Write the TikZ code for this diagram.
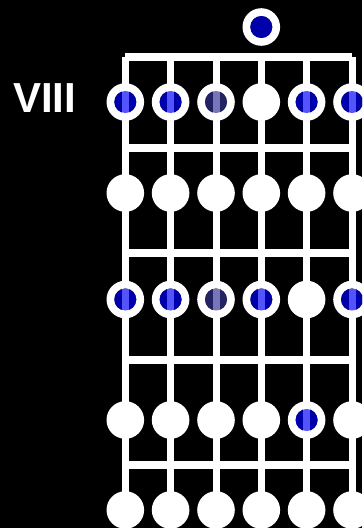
\documentclass[tikz,border=0pt]{standalone}
\usepackage{fontspec}
\setmainfont{Liberation Sans}
\definecolor{dotblue}{RGB}{0,0,255}
\definecolor{dimblue}{RGB}{52,52,150}
\tikzset{
  stringline/.style={white, line width=7pt},
  fretline/.style={white, line width=8pt},
  whitedot/.pic={\fill[white] (0,0) circle (18.8pt);},
  bluedot/.pic={
    \fill[white] (0,0) circle (18.8pt);
    \fill[black] (0,0) circle (11pt);
    \fill[white] (-3.5pt,-11pt) rectangle (3.5pt,11pt);
    \fill[#1, opacity=0.67] (0,0) circle (11pt);
  },
  opendot/.pic={
    \fill[white] (0,0) circle (18.8pt);
    \fill[black] (0,0) circle (11pt);
    \fill[dotblue, opacity=0.67] (0,0) circle (11pt);
  },
}
\begin{document}
\begin{tikzpicture}[x=1pt,y=-1pt]
\fill[black] (0,0) rectangle (362,528);
\useasboundingbox (0,0) rectangle (362,528);
\clip (0,0) rectangle (362,528);
% strings
\foreach \i/\x in {1/125.3,2/170.6,3/216,4/261.3,5/306.6,6/352}{
  \coordinate (top\i) at (\x,57);
  \coordinate (bot\i) at (\x,540);
  \draw[stringline] (top\i) -- (bot\i);
}
% nut
\draw[fretline] (top1) -- (top6);
% frets
\foreach \j/\y in {1/147.5,2/253,3/359.5,4/465}{
  \coordinate (fl\j) at (125.3,\y);
  \coordinate (fr\j) at (352,\y);
  \draw[fretline] (fl\j) -- (fr\j);
}
% open string dot
\pic at (261.3,27) {opendot};
% row 1
\pic at (125.3,102) {bluedot=dotblue};
\pic at (170.6,102) {bluedot=dotblue};
\pic at (216,102) {bluedot=dimblue};
\pic at (261.3,102) {whitedot};
\pic at (306.6,102) {bluedot=dotblue};
\pic at (352,102) {bluedot=dotblue};
% row 2
\foreach \x in {125.3,170.6,216,261.3,306.6,352} \pic at (\x,193) {whitedot};
% row 3
\pic at (125.3,299.5) {bluedot=dotblue};
\pic at (170.6,299.5) {bluedot=dotblue};
\pic at (216,299.5) {bluedot=dimblue};
\pic at (261.3,299.5) {bluedot=dotblue};
\pic at (306.6,299.5) {whitedot};
\pic at (352,299.5) {bluedot=dotblue};
% row 4
\foreach \x in {125.3,170.6,216,261.3,352} \pic at (\x,420) {whitedot};
\pic at (306.6,420) {bluedot=dotblue};
% row 5
\foreach \x in {125.3,170.6,216,261.3,306.6,352} \pic at (\x,510) {whitedot};
% label
\node[anchor=base west, inner sep=0pt, text=white, font=\bfseries\fontsize{42}{42}\selectfont] (lbl) at (13,112.3) {VIII};
\end{tikzpicture}
\end{document}
